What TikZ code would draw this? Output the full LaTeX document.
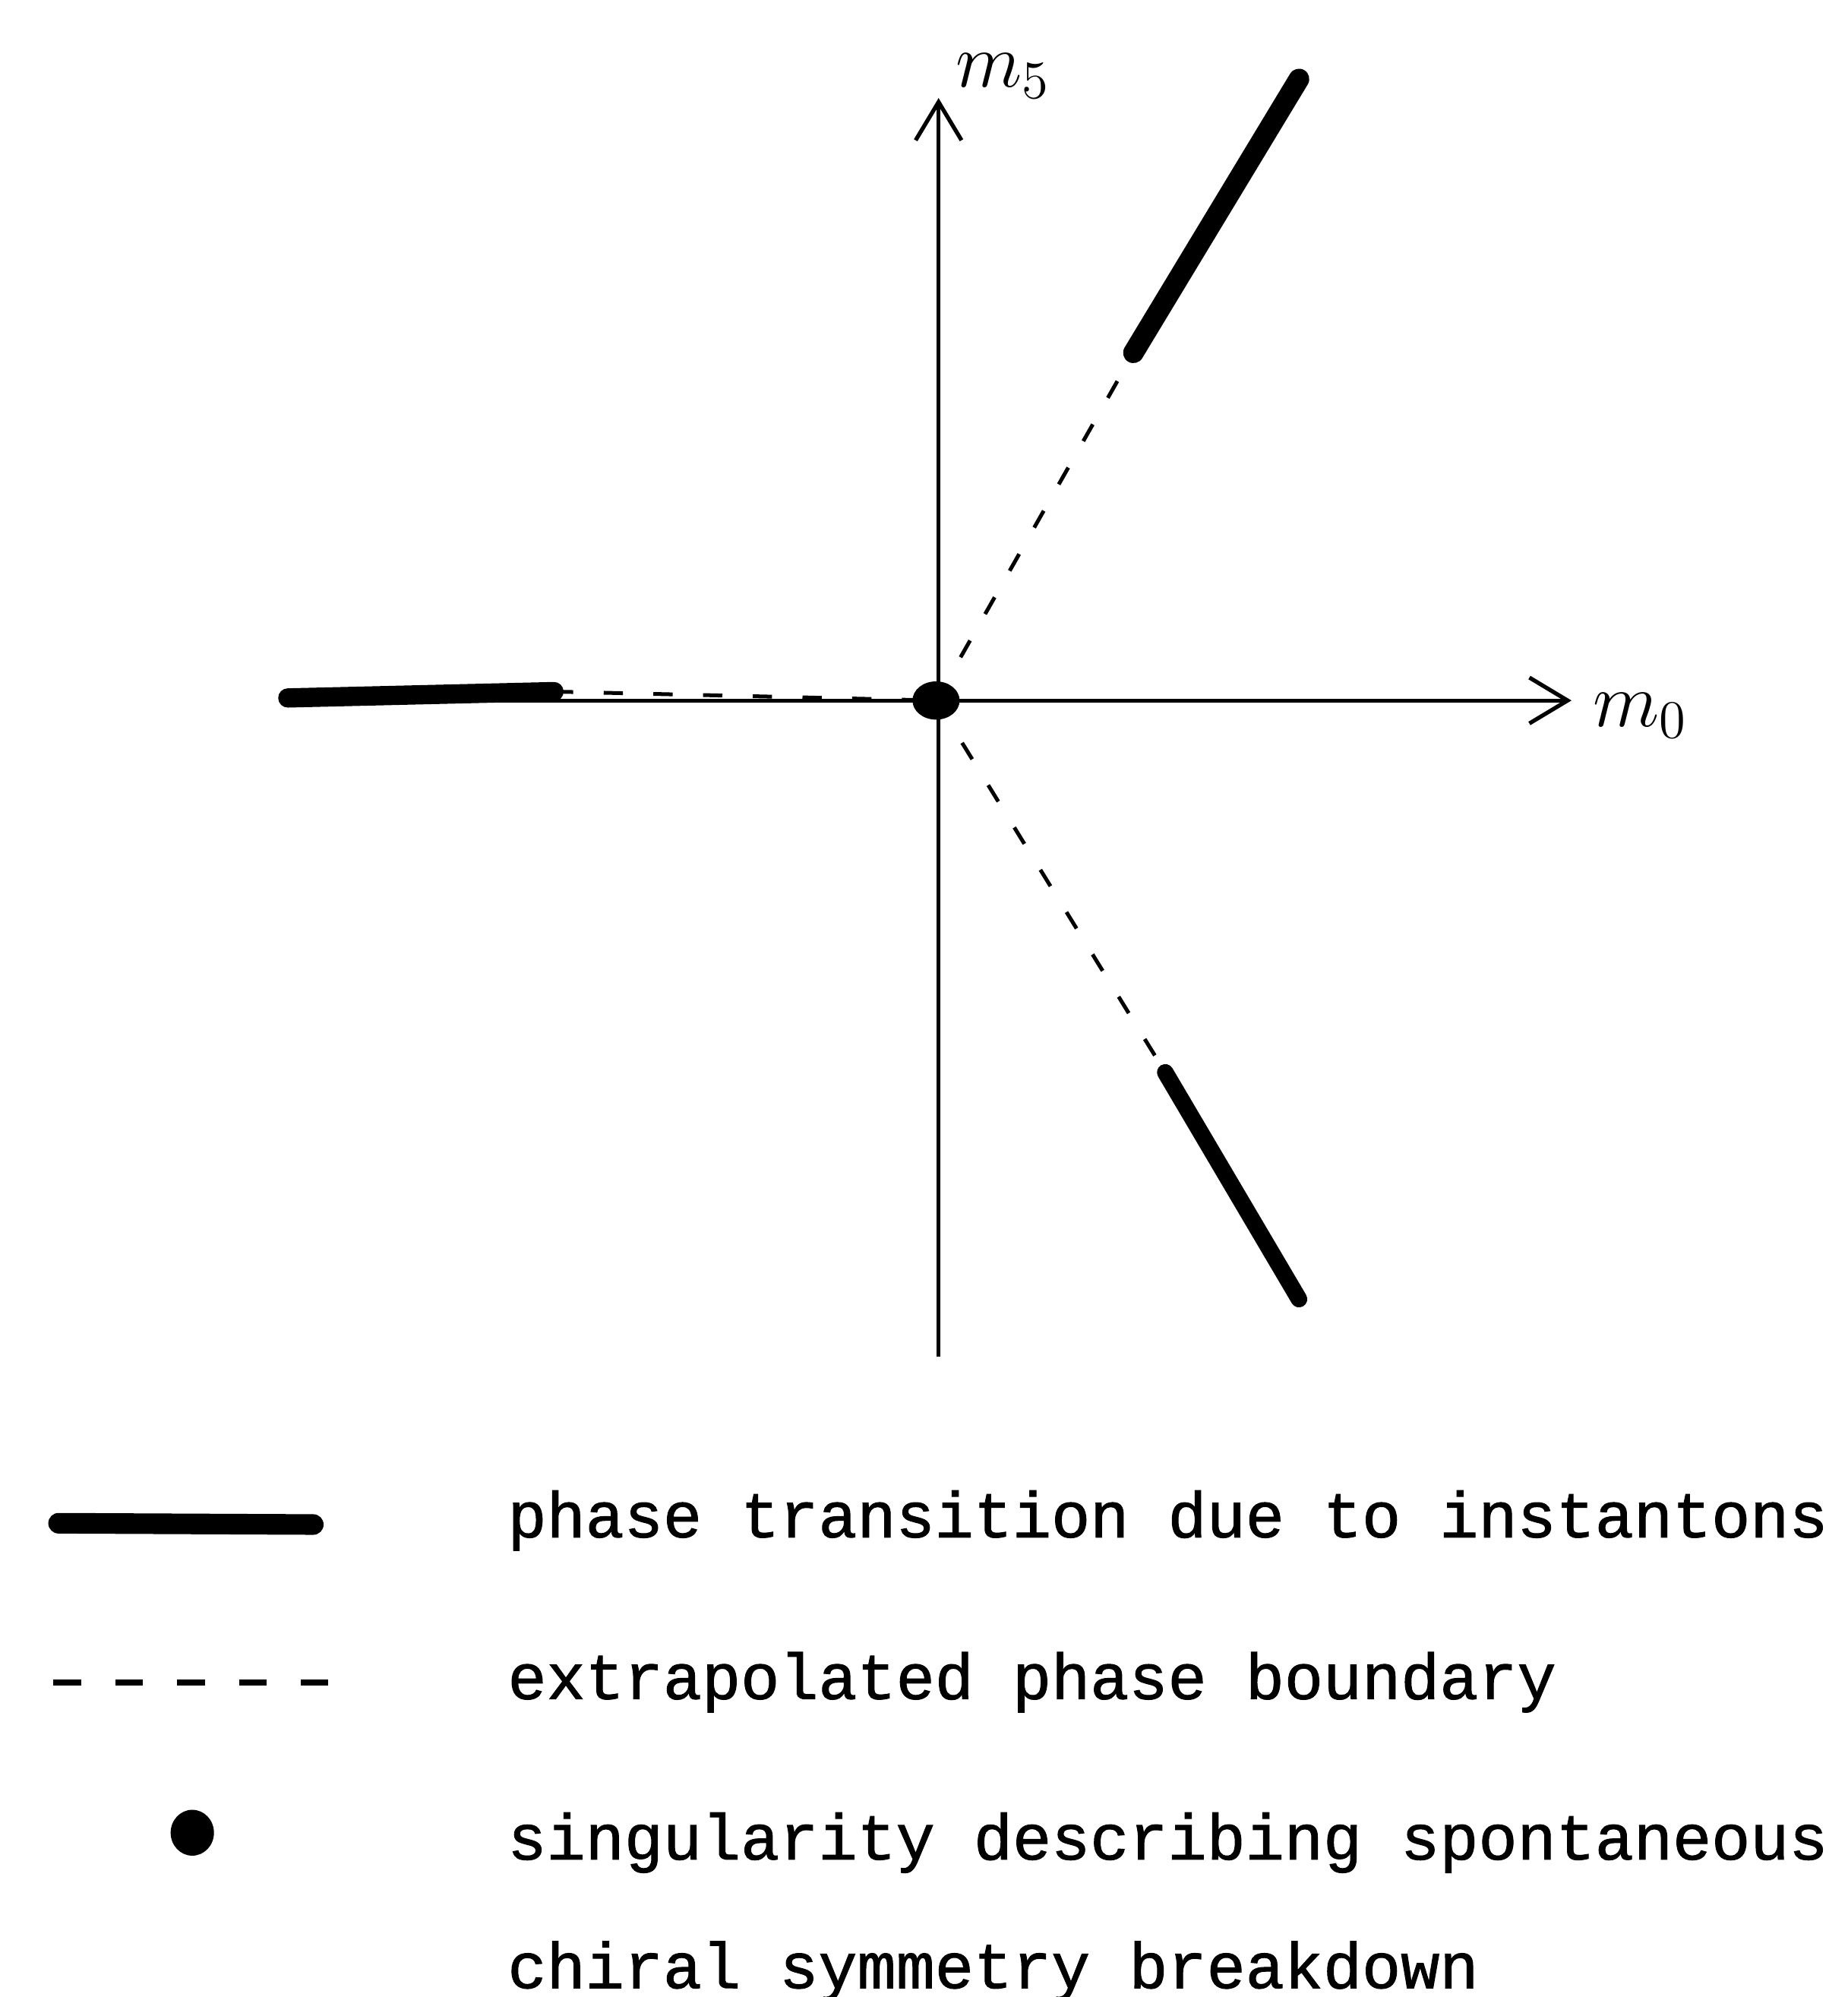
\documentclass[tikz,border=0pt]{standalone}
\usepackage{fontspec}
\newfontfamily\typefont[FakeBold=1.2]{Liberation Mono}
\usetikzlibrary{shapes.geometric, positioning, arrows.meta, calc}

\begin{document}
\begin{tikzpicture}[
        x=0.01cm, y=-0.01cm,
        % Define styles for the lines and labels
        axis/.style={line width=0.9pt, -{Straight Barb[length=3mm, width=3.6mm, line width=0.9pt]}},
        transition/.style={line width=4pt, line cap=round},
        extrapolated/.style={line width=0.85pt, dash pattern=on 4.3pt off 6.8pt},
        singular/.style={ellipse, fill=black, inner sep=0pt, minimum width=0.37cm, minimum height=0.30cm},
        axis label/.style={font=\fontsize{16.5}{19}\selectfont, inner sep=0pt},
        legend text/.style={anchor=base west, font=\typefont\fontsize{14.45}{17}\selectfont, inner sep=0pt}
    ]
        \useasboundingbox (0,0) rectangle (1451,1568);

        % --- Coordinates ---
        \coordinate (origin) at (735,550);
        \coordinate (bottom) at (737,1065);
        \coordinate (top) at (737,77);
        \coordinate (left) at (220,550);
        \coordinate (right) at (1234,550);

        \coordinate (leftEnd) at (226,548);
        \coordinate (leftBreak) at (435,543);
        \coordinate (upEnd) at (1020,62);
        \coordinate (upBreak) at (890,277);
        \coordinate (downEnd) at (1020,1020);
        \coordinate (downBreak) at (915,842);

        % --- Axes ---
        \draw[axis] (bottom) -- (top);
        \draw[axis] (left) -- (right);
        \node[axis label, anchor=south west] (m5) at (750,78) {$m_5$};
        \node[axis label, anchor=west] (m0) at (1250,562) {$m_0$};

        % --- Phase boundaries ---
        \draw[extrapolated] (leftBreak) -- (origin);
        \draw[extrapolated] (origin) -- (upBreak);
        \draw[extrapolated] (origin) -- (downBreak);
        \draw[transition, line width=4.3pt] (leftEnd) -- (leftBreak);
        \draw[transition, line width=4.6pt] (upBreak) -- (upEnd);
        \draw[transition, line width=3.7pt] (downBreak) -- (downEnd);
        \node[singular] (sing) at (origin) {};

        % --- Legend ---
        \coordinate (keyA) at (46,1196);
        \coordinate (keyB) at (246,1197);
        \draw[transition, line width=4.6pt] (keyA) -- (keyB);
        \node[legend text] (txtA) at (398,1207) {phase transition due to instantons};

        \coordinate (keyC) at (42,1321);
        \coordinate (keyD) at (262,1321);
        \draw[line width=1.3pt, dash pattern=on 6.2pt off 7.6pt] (keyC) -- (keyD);
        \node[legend text] (txtB) at (398,1334) {extrapolated phase boundary};

        \node[singular, minimum width=0.34cm, minimum height=0.36cm] (key dot) at (151,1439) {};
        \node[legend text] (txtC) at (398,1460) {singularity describing spontaneous};
        \node[legend text] (txtD) at (398,1561) {chiral symmetry breakdown};

    \end{tikzpicture}
\end{document}
